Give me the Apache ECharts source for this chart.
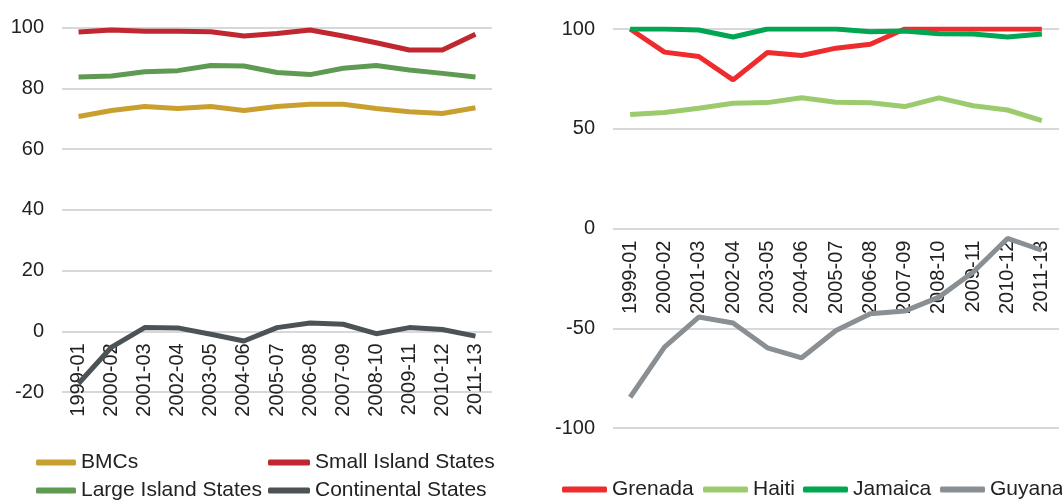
<!DOCTYPE html>
<html>
<head>
<meta charset="utf-8">
<script src="https://cdn.jsdelivr.net/npm/echarts@6/dist/echarts.min.js"></script>
<style>
  html, body { margin: 0; padding: 0; background: #fff; }
  #chart { width: 1062px; height: 501px; }
</style>
</head>
<body>
<div id="chart"></div>
<script>
const categories = ['1999-01', '2000-02', '2001-03', '2002-04', '2003-05', '2004-06', '2005-07',
  '2006-08', '2007-09', '2008-10', '2009-11', '2010-12', '2011-13'];

// left panel
const bmcs = [70.7, 72.7, 74.0, 73.3, 74.0, 72.7, 74.0, 74.7, 74.7, 73.3, 72.3, 71.7, 73.6];
const smallIsland = [98.5, 99.2, 98.8, 98.8, 98.6, 97.2, 98.0, 99.2, 97.2, 95.0, 92.6, 92.6, 97.8];
const largeIsland = [83.7, 84.0, 85.4, 85.8, 87.5, 87.3, 85.2, 84.5, 86.6, 87.5, 86.0, 84.9, 83.7];
const continental = [-17.2, -5.2, 1.2, 1.1, -1.0, -3.2, 1.2, 2.7, 2.3, -0.8, 1.2, 0.6, -1.6];

// right panel
const grenada = [100, 88.4, 86.2, 74.5, 88.2, 86.7, 90.4, 92.4, 100, 100, 100, 100, 100];
const haiti = [57.1, 58.1, 60.3, 62.8, 63.1, 65.5, 63.3, 63.0, 61.1, 65.5, 61.5, 59.4, 54.1];
const jamaica = [100, 100, 99.5, 96.0, 100, 100, 100, 98.6, 99.0, 97.6, 97.5, 96.0, 97.5];
const guyana = [-84.6, -59.5, -44.4, -47.4, -59.8, -64.8, -51.1, -42.7, -41.4, -34.4, -21.8, -5.0, -10.9];

const font = 'Liberation Sans';
const textColor = '#222';
const gridColor = '#d6d8dd';

let chart = echarts.init(document.getElementById('chart'), null, { renderer: 'canvas' });

function legendAt(name, x, y, w) {
  return {
    data: [name],
    left: x,
    top: y,
    padding: 0,
    itemWidth: w,
    itemHeight: 6,
    icon: 'roundRect',
    selectedMode: false,
    textStyle: { fontFamily: font, fontSize: 21, color: textColor }
  };
}

function line(name, data, color, idx) {
  return {
    name: name,
    type: 'line',
    xAxisIndex: idx,
    yAxisIndex: idx,
    data: data,
    color: color,
    showSymbol: false,
    symbol: 'none',
    lineStyle: { width: 5, color: color },
    emphasis: { disabled: true }
  };
}

// the category axis sits at the zero line, so shift it up from the grid bottom
function catAxis(idx, shift) {
  return {
    type: 'category',
    gridIndex: idx,
    data: categories,
    boundaryGap: true,
    offset: -shift,
    axisLine: { show: false, onZero: false },
    axisTick: { show: false },
    axisLabel: { rotate: 90, margin: 12, fontFamily: font, fontSize: 20, color: textColor, interval: 0 }
  };
}

function valAxis(idx, min, max, interval) {
  return {
    type: 'value',
    gridIndex: idx,
    min: min,
    max: max,
    interval: interval,
    axisLine: { show: false },
    axisTick: { show: false },
    splitLine: { lineStyle: { color: gridColor, width: 2 } },
    axisLabel: { margin: 18, fontFamily: font, fontSize: 20, color: textColor }
  };
}

let option = {
  backgroundColor: '#fff',
  animation: false,
  grid: [
    { left: 62, right: 570, top: 27.5, bottom: 109 },
    { left: 613, right: 3, top: 29, bottom: 73 }
  ],
  xAxis: [catAxis(0, 60.7), catAxis(1, 199.4)],
  yAxis: [valAxis(0, -20, 100, 20), valAxis(1, -100, 100, 50)],
  legend: [
    legendAt('BMCs', 36, 452, 40),
    legendAt('Small Island States', 268, 452, 42),
    legendAt('Large Island States', 36, 480, 40),
    legendAt('Continental States', 268, 480, 42),
    legendAt('Grenada', 562, 479, 45),
    legendAt('Haiti', 703, 479, 45),
    legendAt('Jamaica', 803, 479, 45),
    legendAt('Guyana', 940, 479, 45)
  ],
  series: [
    line('BMCs', bmcs, '#c9a030', 0),
    line('Small Island States', smallIsland, '#c1272f', 0),
    line('Large Island States', largeIsland, '#5f9a52', 0),
    line('Continental States', continental, '#4c5356', 0),
    line('Grenada', grenada, '#ee2c2e', 1),
    line('Haiti', haiti, '#9ccb6e', 1),
    line('Jamaica', jamaica, '#00a651', 1),
    line('Guyana', guyana, '#8a8f94', 1)
  ]
};

option && chart.setOption(option);
</script>
</body>
</html>
